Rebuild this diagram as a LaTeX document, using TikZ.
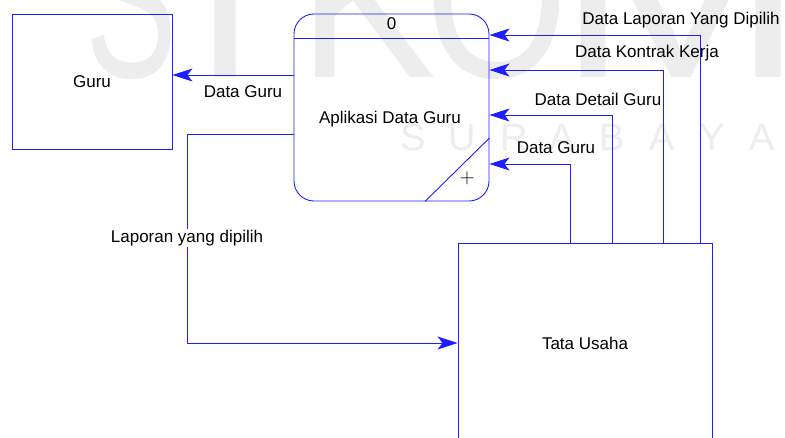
\documentclass[tikz,border=0pt]{standalone}
\usepackage{fontspec}
\setmainfont{Liberation Sans}
\usetikzlibrary{arrows.meta,positioning}
\definecolor{dfdblue}{RGB}{30,30,255}
\definecolor{wmgray}{RGB}{237,237,237}

\begin{document}
\begin{tikzpicture}[x=1pt,y=-1pt,font=\fontsize{17}{20}\selectfont,
        entity/.style={draw=dfdblue,line width=0.9pt,rectangle,inner sep=0pt},
        flow/.style={dfdblue,line width=0.9pt,-{Stealth[length=20pt,width=13pt,inset=5pt]}},
        wmark/.style={text=wmgray,inner sep=0pt,anchor=base}]
            \useasboundingbox (0,0) rectangle (785,437);
            \clip (0,0) rectangle (785,437);
            % watermark
            \node[wmark,font=\fontsize{230}{230}\selectfont] (wmS) at (132,77) {\scalebox{0.6}[1]{S}};
            \node[wmark,font=\fontsize{230}{230}\selectfont] (wmI) at (225,77) {I};
            \node[wmark,font=\fontsize{230}{230}\selectfont] (wmK) at (368,77) {\scalebox{0.9}[1]{K}};
            \node[wmark,font=\fontsize{230}{230}\selectfont] (wmO) at (497,77) {\scalebox{0.8}[1]{O}};
            \node[wmark,font=\fontsize{230}{230}\selectfont] (wmM) at (681,77) {\scalebox{1.3}[1]{M}};
            \foreach \l/\x in {S/413,U/462,R/514,A/562,B/612,A/662,Y/712,A/762}
                \node[wmark,font=\fontsize{38}{38}\selectfont] at (\x,150) {\l};
            % entities and process
            \node[entity,minimum width=160pt,minimum height=135pt] (guru) at (92,81.5) {Guru};
            \node[entity,minimum width=254pt,minimum height=200pt] (tu) at (585,343) {Tata Usaha};
            \node[entity,rounded corners=20pt,minimum width=195pt,minimum height=187pt] (proc) at (391.5,107.5) {};
            \draw[dfdblue,line width=0.9pt] (proc.west |- 0,38) -- (proc.east |- 0,38);
            \draw[dfdblue,line width=0.9pt] (proc.south -| 425,0) -- (proc.east |- 0,138);
            \node (procid) at (391.5,24) {0};
            \node (procname) at (390,119) {Aplikasi Data Guru};
            \node[font=\fontsize{22}{22}\selectfont] (procplus) at (467,178) {$+$};
            % flows
            \draw[flow] (proc.west |- 0,75) -- (guru.east |- 0,75);
            \coordinate (lapbend) at (187,343);
            \draw[flow] (proc.west |- 0,134) -| (lapbend) -- (tu.west);
            \foreach \x/\y in {700/35,663/70,612/115,570/164}
                \draw[flow] (tu.north -| \x,0) |- (proc.east |- 0,\y);
            % flow labels
            \node (lguru) at (243,92) {Data Guru};
            \node[fill=white,inner sep=1pt] (llap) at (187,238) {Laporan yang dipilih};
            \node (rlap) at (681,20) {Data Laporan Yang Dipilih};
            \node (rkon) at (647,53) {Data Kontrak Kerja};
            \node (rdet) at (598,99) {Data Detail Guru};
            \node (rguru) at (556,148) {Data Guru};
        \end{tikzpicture}
\end{document}
